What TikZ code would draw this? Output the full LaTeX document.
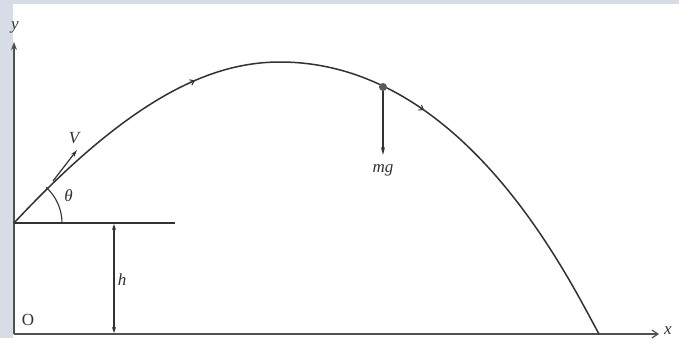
\documentclass[tikz,border=0pt]{standalone}
\usepackage{fontspec}
\setmainfont{Liberation Serif}
\usetikzlibrary{arrows.meta,calc}
\definecolor{frame}{RGB}{214,221,231}
\definecolor{ink}{RGB}{50,50,50}
\begin{document}
\begin{tikzpicture}[x=1pt,y=-1pt,
  axis/.style={draw=ink!85,line width=1.5pt},
  traj/.style={draw=ink,line width=1.5pt,line join=round},
  thin line/.style={draw=ink,line width=1.1pt},
  lbl/.style={text=ink,inner sep=0pt,font=\fontsize{17}{20}\selectfont\itshape},
  midtip/.style={-{Straight Barb[length=4pt,width=6pt,line width=1pt]},draw=ink,line width=1pt}]
% background and margins
\fill[frame] (0,0) rectangle (679,338);
\fill[white] (12.5,4) rectangle (679,338);
\useasboundingbox (0,0) rectangle (679,338);
% named points
\coordinate (O) at (14,334);
\coordinate (L) at (14,223);
\coordinate (apex) at (280,62);
\coordinate (ytop) at (14,42);
\coordinate (xend) at (659,334);
\coordinate (hline) at (175,223);
\coordinate (htop) at (114,224);
\coordinate (hbot) at (114,333);
\coordinate (land) at (599,334);
\coordinate (ball) at (383,87);
\coordinate (mgtip) at (383,155);
\coordinate (vtail) at (53,181);
\coordinate (vtip) at (77,150);
\coordinate (m1) at (195,80.5);
\coordinate (m1b) at (190,82.8);
\coordinate (m2) at (424,110);
\coordinate (m2b) at (419.3,107.1);
% axes
\draw[axis,-{Stealth[length=8pt,width=6pt]}] (O) -- (ytop);
\draw[axis,-{Straight Barb[length=6pt,width=8pt,line width=1.2pt]}] (O) -- (xend);
% launch level and height
\draw[thin line] (L) -- (hline);
\draw[thin line,{Stealth[length=6pt,width=4pt]}-{Stealth[length=6pt,width=4pt]}] (htop) -- (hbot);
% angle arc
\draw[thin line] (62,223) arc[start angle=0,end angle=48,radius=48pt];
% trajectory
\draw[traj] (L) .. controls (130,98.7) and (210,62) .. (apex)
  .. controls (465,62) and (569.9,281.5) .. (land);
% direction marks
\draw[midtip] (m1b) -- (m1);
\draw[midtip] (m2b) -- (m2);
% velocity arrow
\draw[thin line,line width=1.2pt,-{Stealth[length=7pt,width=4pt]}] (vtail) -- (vtip);
% ball and weight
\draw[thin line,line width=1.3pt,-{Stealth[length=8pt,width=4pt]}] (ball) -- (mgtip);
\fill[ink!80] (ball) circle (4pt);
% labels
\node[lbl] (ylab) at (15,27) {y};
\node[lbl] (xlab) at (668,331) {x};
\node[lbl,font=\fontsize{17}{20}\selectfont\upshape] (Olab) at (28,320) {O};
\node[lbl] (hlab) at (122,280) {h};
\node[lbl] (tlab) at (68.5,196) {θ};
\node[lbl] (Vlab) at (74,138) {V};
\node[lbl] (mglab) at (383,170) {mg};
\end{tikzpicture}
\end{document}
